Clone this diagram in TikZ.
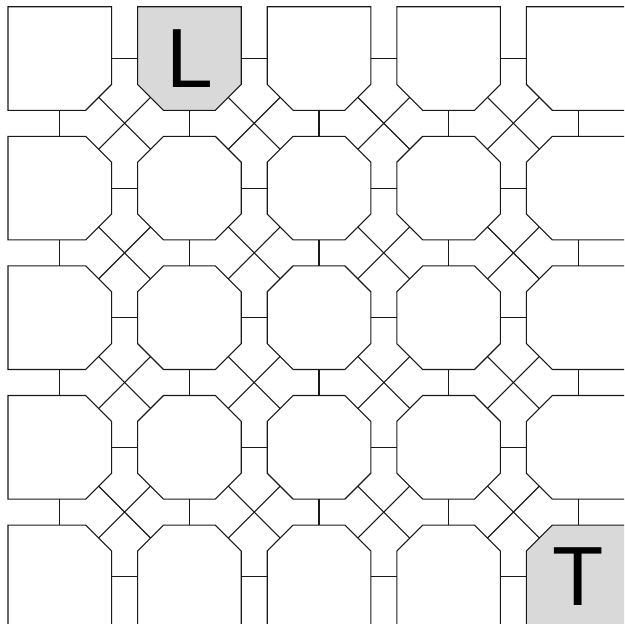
\documentclass[tikz,border=0pt]{standalone}
\usepackage{fontspec}
\setmainfont{Liberation Sans}
\definecolor{cellgray}{RGB}{217,217,217}
\begin{document}
\begin{tikzpicture}[x=1pt,y=-1pt,
  cell/.style={draw=black!90, line width=1.1pt},
  link/.style={draw=black!90, line width=1.1pt},
  letter/.style={font=\fontsize{84}{84}\selectfont, text=black, inner sep=0pt}]
\useasboundingbox (0,0) rectangle (624,624);
\clip (0,0) rectangle (624,624);
\fill[white] (0,0) rectangle (624,624);
% cells
\foreach \i in {0,...,4}{
  \foreach \j in {0,...,4}{
    \pgfmathsetmacro\xa{8+129.6*\i}
    \pgfmathsetmacro\ya{6.7+129.6*\j}
    \pgfmathsetmacro\xb{\xa+103.6}
    \pgfmathsetmacro\yb{\ya+103.6}
    \pgfmathsetmacro\xm{\xa+51.8}
    \pgfmathsetmacro\ym{\ya+51.8}
    \pgfmathsetmacro\xac{\xa+25.9}
    \pgfmathsetmacro\yac{\ya+25.9}
    \pgfmathsetmacro\xbc{\xb-25.9}
    \pgfmathsetmacro\ybc{\yb-25.9}
    \pgfmathsetmacro\xah{\xa+12.95}
    \pgfmathsetmacro\yah{\ya+12.95}
    \pgfmathsetmacro\xbh{\xb-12.95}
    \pgfmathsetmacro\ybh{\yb-12.95}
    \def\ptl{(\xa,\ya)}
    \def\ptr{(\xb,\ya)}
    \def\pbr{(\xb,\yb)}
    \def\pbl{(\xa,\yb)}
    \ifnum\i>0 \ifnum\j>0 \def\ptl{(\xa,\yac) -- (\xac,\ya)}\fi\fi
    \ifnum\i<4 \ifnum\j>0 \def\ptr{(\xbc,\ya) -- (\xb,\yac)}\fi\fi
    \ifnum\i<4 \ifnum\j<4 \def\pbr{(\xb,\ybc) -- (\xbc,\yb)}\fi\fi
    \ifnum\i>0 \ifnum\j<4 \def\pbl{(\xac,\yb) -- (\xa,\ybc)}\fi\fi
    \def\cfill{white}
    \ifnum\i=1 \ifnum\j=0 \def\cfill{cellgray}\fi\fi
    \ifnum\i=4 \ifnum\j=4 \def\cfill{cellgray}\fi\fi
    \edef\cmd{\noexpand\path[cell, fill=\cfill] \ptl -- \ptr -- \pbr -- \pbl -- cycle;}
    \cmd
    \coordinate (c\i\j) at (\xm,\ym);
    \coordinate (c\i\j-E) at (\xb,\ym);
    \coordinate (c\i\j-W) at (\xa,\ym);
    \coordinate (c\i\j-N) at (\xm,\ya);
    \coordinate (c\i\j-S) at (\xm,\yb);
    \coordinate (c\i\j-NW) at (\xah,\yah);
    \coordinate (c\i\j-NE) at (\xbh,\yah);
    \coordinate (c\i\j-SW) at (\xah,\ybh);
    \coordinate (c\i\j-SE) at (\xbh,\ybh);
  }
}
% straight links
\foreach \i in {0,...,3}{
  \pgfmathtruncatemacro\ii{\i+1}
  \foreach \j in {0,...,4}{
    \draw[link] (c\i\j-E) -- (c\ii\j-W);
    \draw[link] (c\j\i-S) -- (c\j\ii-N);
  }
}
% diagonal links
\foreach \i in {0,...,3}{
  \pgfmathtruncatemacro\ii{\i+1}
  \foreach \j in {0,...,3}{
    \pgfmathtruncatemacro\jj{\j+1}
    \draw[link] (c\i\j-SE) -- (c\ii\jj-NW);
    \draw[link] (c\ii\j-SW) -- (c\i\jj-NE);
  }
}
\node[letter] (L) at (c10) {L};
\node[letter] (T) at (c44) {T};
\end{tikzpicture}
\end{document}
